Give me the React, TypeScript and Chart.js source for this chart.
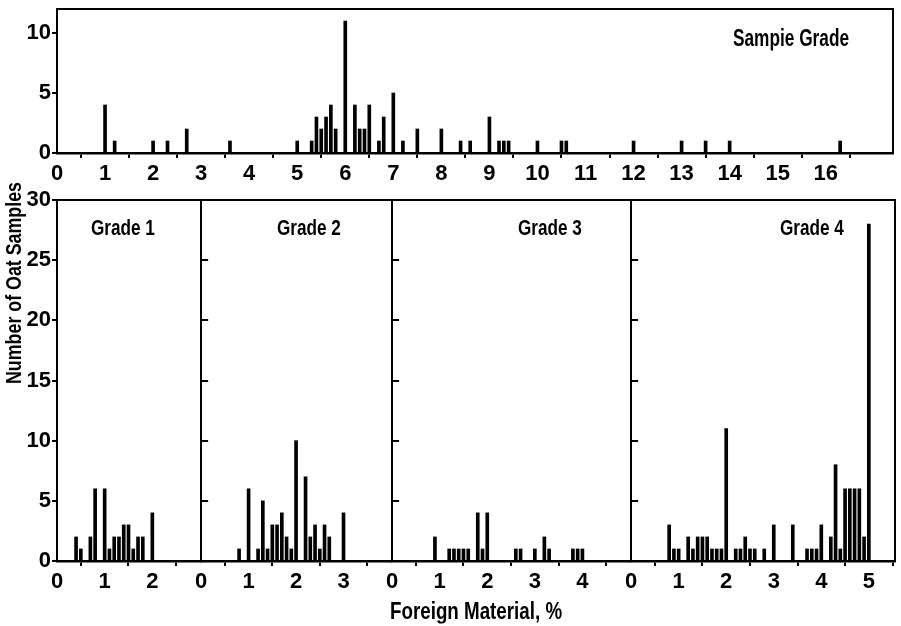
import React, { useEffect, useRef } from "react";
import { Chart, registerables } from "chart.js";
Chart.register(...registerables);

const FONT = "'Liberation Sans Narrow', 'Liberation Sans', Arial, sans-serif";

// Sample Grade (top panel)
const sampleGradeX = [1.0, 1.2, 2.0, 2.3, 2.7, 3.6, 5.0, 5.3, 5.4, 5.5, 5.6, 5.7, 5.8, 6.0, 6.2, 6.3, 6.4, 6.5, 6.7, 6.8, 7.0, 7.2, 7.5, 8.0, 8.4, 8.6, 9.0, 9.2, 9.3, 9.4, 10.0, 10.5, 10.6, 12.0, 13.0, 13.5, 14.0, 16.3];
const sampleGradeY = [4, 1, 1, 1, 2, 1, 1, 1, 3, 2, 3, 4, 2, 11, 4, 2, 2, 4, 1, 3, 5, 1, 2, 2, 1, 1, 3, 1, 1, 1, 1, 1, 1, 1, 1, 1, 1, 1];

// Grade 1
const grade1X = [0.4, 0.5, 0.7, 0.8, 1.0, 1.1, 1.2, 1.3, 1.4, 1.5, 1.6, 1.7, 1.8, 2.0];
const grade1Y = [2, 1, 2, 6, 6, 1, 2, 2, 3, 3, 1, 2, 2, 4];

// Grade 2
const grade2X = [0.8, 1.0, 1.2, 1.3, 1.4, 1.5, 1.6, 1.7, 1.8, 1.9, 2.0, 2.2, 2.3, 2.4, 2.5, 2.6, 2.7, 3.0];
const grade2Y = [1, 6, 1, 5, 1, 3, 3, 4, 2, 1, 10, 7, 2, 3, 1, 3, 2, 4];

// Grade 3
const grade3X = [0.9, 1.2, 1.3, 1.4, 1.5, 1.6, 1.8, 1.9, 2.0, 2.6, 2.7, 3.0, 3.2, 3.3, 3.8, 3.9, 4.0];
const grade3Y = [2, 1, 1, 1, 1, 1, 4, 1, 4, 1, 1, 1, 2, 1, 1, 1, 1];

// Grade 4
const grade4X = [0.8, 0.9, 1.0, 1.2, 1.3, 1.4, 1.5, 1.6, 1.7, 1.8, 1.9, 2.0, 2.2, 2.3, 2.4, 2.5, 2.6, 2.8, 3.0, 3.4, 3.7, 3.8, 3.9, 4.0, 4.2, 4.3, 4.4, 4.5, 4.6, 4.7, 4.8, 4.9, 5.0];
const grade4Y = [3, 1, 1, 2, 1, 2, 2, 2, 1, 1, 1, 11, 1, 1, 2, 1, 1, 1, 3, 3, 1, 1, 1, 3, 2, 8, 1, 6, 6, 6, 6, 2, 28];

type PanelProps = {
  left: number; top: number; right: number; bottom: number;
  xMax: number; yMax: number; lastXTick: number;
  xs: number[]; ys: number[];
  yLabels: boolean; rightBorder: boolean;
};

function Panel(p: PanelProps) {
  const ref = useRef<HTMLCanvasElement>(null);
  const padL = p.yLabels ? 56 : 10;
  const padT = 16, padR = 4, padB = 44;
  const W = p.right - p.left + padL + padR;
  const H = p.bottom - p.top + padT + padB;
  useEffect(() => {
    const tickFont = { family: FONT, size: 22, weight: "bold" as const, lineHeight: 1 };
    const scales: any = {
      x: {
        type: "linear", min: 0, max: p.xMax, offset: false,
        ticks: { stepSize: 1, includeBounds: false, color: "#000", font: tickFont, padding: 5, maxRotation: 0, autoSkip: false },
        grid: { drawOnChartArea: false, drawTicks: true, tickLength: 5, color: "#000", lineWidth: 2 },
        border: { display: true, color: "#000", width: 2.5 },
        afterBuildTicks: (s: any) => { s.ticks = s.ticks.filter((t: any) => t.value <= p.lastXTick); },
        afterFit: (s: any) => { s.height = padB; },
      },
      y: p.yLabels ? {
        type: "linear", min: 0, max: p.yMax,
        ticks: { stepSize: 5, includeBounds: false, color: "#000", font: tickFont, padding: 1 },
        grid: { drawOnChartArea: false, drawTicks: true, tickLength: 5, color: "#000", lineWidth: 2 },
        border: { display: true, color: "#000", width: 2 },
        afterFit: (s: any) => { s.width = padL; },
      } : {
        type: "linear", min: 0, max: p.yMax,
        ticks: { stepSize: 5, includeBounds: false, display: false },
        grid: { drawOnChartArea: false, drawTicks: true, tickLength: -7, color: "#000", lineWidth: 2 },
        border: { display: true, color: "#000", width: 2 },
        afterFit: (s: any) => { s.width = padL; },
      },
      x2: {
        type: "linear", position: "top", min: 0, max: 1,
        ticks: { display: false }, grid: { display: false },
        border: { display: true, color: "#000", width: 2 },
        afterFit: (s: any) => { s.height = 0; },
      },
    };
    if (p.rightBorder) {
      scales.y2 = {
        type: "linear", position: "right", min: 0, max: 1,
        ticks: { display: false }, grid: { display: false },
        border: { display: true, color: "#000", width: 2 },
        afterFit: (s: any) => { s.width = 0; },
      };
    }
    const chart = new Chart(ref.current!, {
      type: "bar",
      data: {
        datasets: [{
          data: p.xs.map((x, i) => ({ x, y: p.ys[i] })),
          backgroundColor: "#000", borderWidth: 0, barThickness: 3,
        }],
      },
      options: {
        responsive: false, animation: false, devicePixelRatio: 1,
        layout: { autoPadding: false, padding: { left: 0, top: padT, right: padR, bottom: 0 } },
        plugins: { legend: { display: false }, tooltip: { enabled: false }, title: { display: false } },
        scales,
      } as any,
    });
    return () => chart.destroy();
  }, []);
  return (
    <canvas
      ref={ref}
      width={W}
      height={H}
      style={{ position: "absolute", left: p.left - padL, top: p.top - padT, width: W, height: H }}
    />
  );
}

const textBase: React.CSSProperties = { position: "absolute", lineHeight: 1, whiteSpace: "nowrap", transformOrigin: "0 50%" };

export default function App() {
  return (
    <div style={{ position: "absolute", left: 0, top: 0, width: 901, height: 626, background: "#fff", color: "#000", fontFamily: FONT, fontWeight: "bold", overflow: "hidden" }}>
      <Panel left={57} top={9} right={893} bottom={153} xMax={17.4} yMax={12} lastXTick={16} xs={sampleGradeX} ys={sampleGradeY} yLabels={true} rightBorder={true} />
      <Panel left={57} top={200} right={200} bottom={561} xMax={3} yMax={30} lastXTick={2} xs={grade1X} ys={grade1Y} yLabels={true} rightBorder={false} />
      <Panel left={200} top={200} right={391} bottom={561} xMax={4} yMax={30} lastXTick={3} xs={grade2X} ys={grade2Y} yLabels={false} rightBorder={false} />
      <Panel left={391} top={200} right={630} bottom={561} xMax={5} yMax={30} lastXTick={4} xs={grade3X} ys={grade3Y} yLabels={false} rightBorder={false} />
      <Panel left={630} top={200} right={895} bottom={561} xMax={5.55} yMax={30} lastXTick={5} xs={grade4X} ys={grade4Y} yLabels={false} rightBorder={true} />
      <div style={{ ...textBase, left: 733, top: 38, transform: "translateY(-50%) scaleX(0.75)", fontSize: 23 }}>Sampie Grade</div>
      <div style={{ ...textBase, left: 91, top: 228, transform: "translateY(-50%) scaleX(0.78)", fontSize: 22 }}>Grade 1</div>
      <div style={{ ...textBase, left: 277, top: 228, transform: "translateY(-50%) scaleX(0.78)", fontSize: 22 }}>Grade 2</div>
      <div style={{ ...textBase, left: 518, top: 228, transform: "translateY(-50%) scaleX(0.78)", fontSize: 22 }}>Grade 3</div>
      <div style={{ ...textBase, left: 780, top: 228, transform: "translateY(-50%) scaleX(0.78)", fontSize: 22 }}>Grade 4</div>
      <div style={{ position: "absolute", left: 14, top: 283, width: 0, height: 0 }}>
        <div style={{ position: "absolute", left: 0, top: 0, lineHeight: 1, whiteSpace: "nowrap", fontSize: 22, transform: "translate(-50%, -50%) rotate(-90deg) scaleX(0.81)" }}>Number of Oat Samples</div>
      </div>
      <div style={{ ...textBase, left: 390, top: 611, transform: "translateY(-50%) scaleX(0.816)", fontSize: 23 }}>Foreign Material, %</div>
    </div>
  );
}
